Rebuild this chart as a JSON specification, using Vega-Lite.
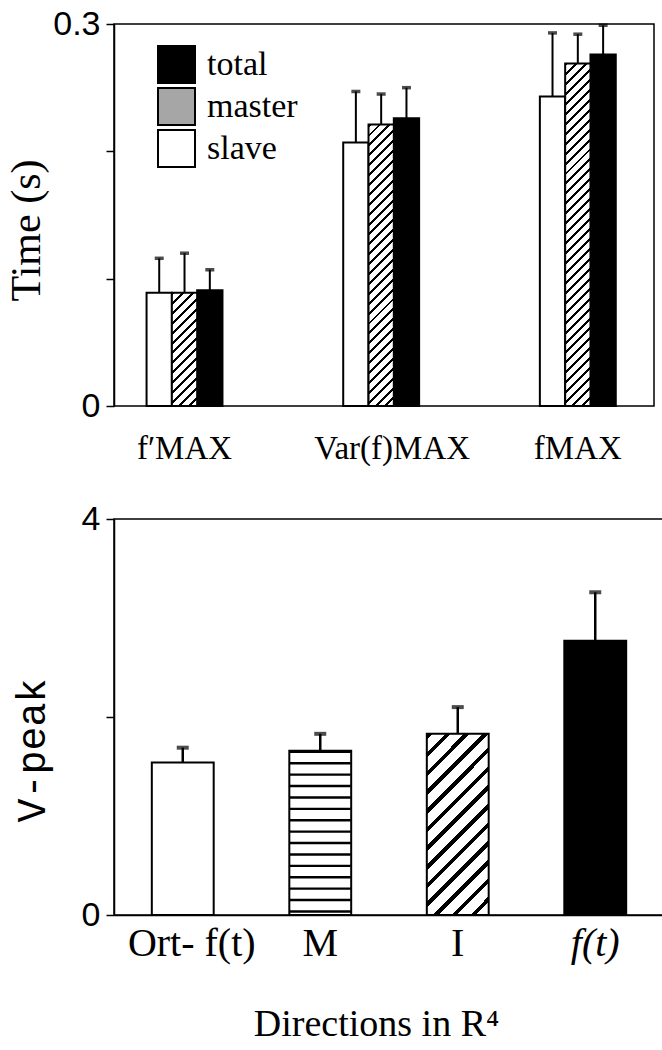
{
  "$schema": "https://vega.github.io/schema/vega-lite/v6.json",
  "padding": {"left": 4, "top": 6, "right": 0, "bottom": 0},
  "spacing": 35,
  "background": "#ffffff",
  "datasets": {
    "top": [
      {"metric": "f′MAX", "series": "slave", "time": 0.089, "upper": 0.116},
      {"metric": "f′MAX", "series": "master", "time": 0.089, "upper": 0.120},
      {"metric": "f′MAX", "series": "total", "time": 0.091, "upper": 0.107},
      {"metric": "Var(f)MAX", "series": "slave", "time": 0.207, "upper": 0.247},
      {"metric": "Var(f)MAX", "series": "master", "time": 0.221, "upper": 0.245},
      {"metric": "Var(f)MAX", "series": "total", "time": 0.226, "upper": 0.250},
      {"metric": "fMAX", "series": "slave", "time": 0.243, "upper": 0.293},
      {"metric": "fMAX", "series": "master", "time": 0.269, "upper": 0.292},
      {"metric": "fMAX", "series": "total", "time": 0.276, "upper": 0.299}
    ],
    "bottom": [
      {"dir": "Ort- f(t)", "vpeak": 1.54, "upper": 1.69},
      {"dir": "M", "vpeak": 1.66, "upper": 1.83},
      {"dir": "I", "vpeak": 1.83, "upper": 2.10},
      {"dir": "f(t)", "vpeak": 2.77, "upper": 3.26}
    ]
  },
  "config": {
    "font": "Liberation Serif",
    "view": {"stroke": "#000", "strokeWidth": 1.5},
    "axis": {
      "grid": false,
      "domainColor": "#000", "domainWidth": 1.5,
      "tickColor": "#000", "tickWidth": 1.5,
      "labelColor": "#000", "titleColor": "#000",
      "labelFont": "Liberation Sans",
      "labelFontSize": 34,
      "titleFontWeight": "normal"
    }
  },
  "vconcat": [
    {
      "width": 540,
      "height": 382,
      "data": {"name": "top"},
      "encoding": {
        "x": {"field": "metric", "type": "nominal", "sort": ["f′MAX", "Var(f)MAX", "fMAX"],
              "scale": {"paddingInner": 0.614, "paddingOuter": 0.18, "align": 0.46},
              "axis": {"title": null, "ticks": false, "domain": false, "labelAngle": 0, "labelFont": "Liberation Serif",
                       "labelFontSize": 33, "labelPadding": 26,
                       "labelOffset": {"condition": {"test": "datum.value === 'Var(f)MAX'", "value": 11}, "value": 0}}},
        "y": {"field": "time", "type": "quantitative", "scale": {"domain": [0, 0.3], "nice": false},
              "axis": {"values": [0, 0.1, 0.2, 0.3], "labelExpr": "datum.value == 0 ? '0' : datum.value > 0.29 ? '0.3' : ''",
                       "tickSize": 8, "labelPadding": 6, "title": "Time (s)", "titleFont": "Liberation Serif",
                       "titleFontSize": 42, "titleX": -66, "titleY": 206}}
      },
      "layer": [
        {
          "transform": [{"filter": "datum.series !== 'master'"}],
          "mark": {"type": "bar", "strokeWidth": 2},
          "encoding": {
            "xOffset": {"field": "series", "type": "nominal", "scale": {"domain": ["slave", "master", "total"], "paddingInner": 0, "paddingOuter": 0}},
            "fill": {"field": "series", "type": "nominal",
              "scale": {"domain": ["total", "master", "slave"], "range": ["#000", "#a6a6a6", "#fff"]},
              "legend": {"orient": "none", "legendX": 43, "legendY": 21, "title": null, "symbolType": "square",
                         "symbolSize": 1369, "symbolStrokeWidth": 2,
                         "labelFont": "Liberation Serif", "labelFontSize": 34, "labelColor": "#000",
                         "rowPadding": -4, "labelOffset": 11, "padding": 0, "labelLimit": 300}},
            "stroke": {"field": "series", "type": "nominal",
              "scale": {"domain": ["total", "master", "slave"], "range": ["#000", "#000", "#000"]},
              "legend": {"orient": "none", "legendX": 43, "legendY": 21, "title": null, "symbolType": "square",
                         "symbolSize": 1369, "symbolStrokeWidth": 2,
                         "labelFont": "Liberation Serif", "labelFontSize": 34, "labelColor": "#000",
                         "rowPadding": -4, "labelOffset": 11, "padding": 0, "labelLimit": 300}}
          }
        },
        {
          "transform": [{"filter": "datum.series === 'master' && datum.metric === 'f′MAX'"}],
          "mark": {"type": "bar", "stroke": "#000", "strokeWidth": 2,
            "fill": {"gradient": "linear", "x1": 0, "y1": 0, "x2": 0.2602, "y2": 1.1652, "stops": [
              {"offset": 0, "color": "#000"}, {"offset": 0.0214, "color": "#000"}, {"offset": 0.0214, "color": "#fff"}, {"offset": 0.0714, "color": "#fff"},
              {"offset": 0.0714, "color": "#000"}, {"offset": 0.0929, "color": "#000"}, {"offset": 0.0929, "color": "#fff"}, {"offset": 0.1429, "color": "#fff"},
              {"offset": 0.1429, "color": "#000"}, {"offset": 0.1643, "color": "#000"}, {"offset": 0.1643, "color": "#fff"}, {"offset": 0.2143, "color": "#fff"},
              {"offset": 0.2143, "color": "#000"}, {"offset": 0.2357, "color": "#000"}, {"offset": 0.2357, "color": "#fff"}, {"offset": 0.2857, "color": "#fff"},
              {"offset": 0.2857, "color": "#000"}, {"offset": 0.3071, "color": "#000"}, {"offset": 0.3071, "color": "#fff"}, {"offset": 0.3571, "color": "#fff"},
              {"offset": 0.3571, "color": "#000"}, {"offset": 0.3786, "color": "#000"}, {"offset": 0.3786, "color": "#fff"}, {"offset": 0.4286, "color": "#fff"},
              {"offset": 0.4286, "color": "#000"}, {"offset": 0.45, "color": "#000"}, {"offset": 0.45, "color": "#fff"}, {"offset": 0.5, "color": "#fff"},
              {"offset": 0.5, "color": "#000"}, {"offset": 0.5214, "color": "#000"}, {"offset": 0.5214, "color": "#fff"}, {"offset": 0.5714, "color": "#fff"},
              {"offset": 0.5714, "color": "#000"}, {"offset": 0.5929, "color": "#000"}, {"offset": 0.5929, "color": "#fff"}, {"offset": 0.6429, "color": "#fff"},
              {"offset": 0.6429, "color": "#000"}, {"offset": 0.6643, "color": "#000"}, {"offset": 0.6643, "color": "#fff"}, {"offset": 0.7143, "color": "#fff"},
              {"offset": 0.7143, "color": "#000"}, {"offset": 0.7357, "color": "#000"}, {"offset": 0.7357, "color": "#fff"}, {"offset": 0.7857, "color": "#fff"},
              {"offset": 0.7857, "color": "#000"}, {"offset": 0.8071, "color": "#000"}, {"offset": 0.8071, "color": "#fff"}, {"offset": 0.8571, "color": "#fff"},
              {"offset": 0.8571, "color": "#000"}, {"offset": 0.8786, "color": "#000"}, {"offset": 0.8786, "color": "#fff"}, {"offset": 0.9286, "color": "#fff"},
              {"offset": 0.9286, "color": "#000"}, {"offset": 0.95, "color": "#000"}, {"offset": 0.95, "color": "#fff"}, {"offset": 1, "color": "#fff"}
            ]}},
          "encoding": {
            "xOffset": {"field": "series", "type": "nominal", "scale": {"domain": ["slave", "master", "total"], "paddingInner": 0, "paddingOuter": 0}}
          }
        },
        {
          "transform": [{"filter": "datum.series === 'master' && datum.metric === 'Var(f)MAX'"}],
          "mark": {"type": "bar", "stroke": "#000", "strokeWidth": 2,
            "fill": {"gradient": "linear", "x1": 0, "y1": 0, "x2": 0.0972, "y2": 1.0812, "stops": [
              {"offset": 0, "color": "#000"}, {"offset": 0.0097, "color": "#000"}, {"offset": 0.0097, "color": "#fff"}, {"offset": 0.0323, "color": "#fff"},
              {"offset": 0.0323, "color": "#000"}, {"offset": 0.0419, "color": "#000"}, {"offset": 0.0419, "color": "#fff"}, {"offset": 0.0645, "color": "#fff"},
              {"offset": 0.0645, "color": "#000"}, {"offset": 0.0742, "color": "#000"}, {"offset": 0.0742, "color": "#fff"}, {"offset": 0.0968, "color": "#fff"},
              {"offset": 0.0968, "color": "#000"}, {"offset": 0.1065, "color": "#000"}, {"offset": 0.1065, "color": "#fff"}, {"offset": 0.129, "color": "#fff"},
              {"offset": 0.129, "color": "#000"}, {"offset": 0.1387, "color": "#000"}, {"offset": 0.1387, "color": "#fff"}, {"offset": 0.1613, "color": "#fff"},
              {"offset": 0.1613, "color": "#000"}, {"offset": 0.171, "color": "#000"}, {"offset": 0.171, "color": "#fff"}, {"offset": 0.1935, "color": "#fff"},
              {"offset": 0.1935, "color": "#000"}, {"offset": 0.2032, "color": "#000"}, {"offset": 0.2032, "color": "#fff"}, {"offset": 0.2258, "color": "#fff"},
              {"offset": 0.2258, "color": "#000"}, {"offset": 0.2355, "color": "#000"}, {"offset": 0.2355, "color": "#fff"}, {"offset": 0.2581, "color": "#fff"},
              {"offset": 0.2581, "color": "#000"}, {"offset": 0.2677, "color": "#000"}, {"offset": 0.2677, "color": "#fff"}, {"offset": 0.2903, "color": "#fff"},
              {"offset": 0.2903, "color": "#000"}, {"offset": 0.3, "color": "#000"}, {"offset": 0.3, "color": "#fff"}, {"offset": 0.3226, "color": "#fff"},
              {"offset": 0.3226, "color": "#000"}, {"offset": 0.3323, "color": "#000"}, {"offset": 0.3323, "color": "#fff"}, {"offset": 0.3548, "color": "#fff"},
              {"offset": 0.3548, "color": "#000"}, {"offset": 0.3645, "color": "#000"}, {"offset": 0.3645, "color": "#fff"}, {"offset": 0.3871, "color": "#fff"},
              {"offset": 0.3871, "color": "#000"}, {"offset": 0.3968, "color": "#000"}, {"offset": 0.3968, "color": "#fff"}, {"offset": 0.4194, "color": "#fff"},
              {"offset": 0.4194, "color": "#000"}, {"offset": 0.429, "color": "#000"}, {"offset": 0.429, "color": "#fff"}, {"offset": 0.4516, "color": "#fff"},
              {"offset": 0.4516, "color": "#000"}, {"offset": 0.4613, "color": "#000"}, {"offset": 0.4613, "color": "#fff"}, {"offset": 0.4839, "color": "#fff"},
              {"offset": 0.4839, "color": "#000"}, {"offset": 0.4935, "color": "#000"}, {"offset": 0.4935, "color": "#fff"}, {"offset": 0.5161, "color": "#fff"},
              {"offset": 0.5161, "color": "#000"}, {"offset": 0.5258, "color": "#000"}, {"offset": 0.5258, "color": "#fff"}, {"offset": 0.5484, "color": "#fff"},
              {"offset": 0.5484, "color": "#000"}, {"offset": 0.5581, "color": "#000"}, {"offset": 0.5581, "color": "#fff"}, {"offset": 0.5806, "color": "#fff"},
              {"offset": 0.5806, "color": "#000"}, {"offset": 0.5903, "color": "#000"}, {"offset": 0.5903, "color": "#fff"}, {"offset": 0.6129, "color": "#fff"},
              {"offset": 0.6129, "color": "#000"}, {"offset": 0.6226, "color": "#000"}, {"offset": 0.6226, "color": "#fff"}, {"offset": 0.6452, "color": "#fff"},
              {"offset": 0.6452, "color": "#000"}, {"offset": 0.6548, "color": "#000"}, {"offset": 0.6548, "color": "#fff"}, {"offset": 0.6774, "color": "#fff"},
              {"offset": 0.6774, "color": "#000"}, {"offset": 0.6871, "color": "#000"}, {"offset": 0.6871, "color": "#fff"}, {"offset": 0.7097, "color": "#fff"},
              {"offset": 0.7097, "color": "#000"}, {"offset": 0.7194, "color": "#000"}, {"offset": 0.7194, "color": "#fff"}, {"offset": 0.7419, "color": "#fff"},
              {"offset": 0.7419, "color": "#000"}, {"offset": 0.7516, "color": "#000"}, {"offset": 0.7516, "color": "#fff"}, {"offset": 0.7742, "color": "#fff"},
              {"offset": 0.7742, "color": "#000"}, {"offset": 0.7839, "color": "#000"}, {"offset": 0.7839, "color": "#fff"}, {"offset": 0.8065, "color": "#fff"},
              {"offset": 0.8065, "color": "#000"}, {"offset": 0.8161, "color": "#000"}, {"offset": 0.8161, "color": "#fff"}, {"offset": 0.8387, "color": "#fff"},
              {"offset": 0.8387, "color": "#000"}, {"offset": 0.8484, "color": "#000"}, {"offset": 0.8484, "color": "#fff"}, {"offset": 0.871, "color": "#fff"},
              {"offset": 0.871, "color": "#000"}, {"offset": 0.8806, "color": "#000"}, {"offset": 0.8806, "color": "#fff"}, {"offset": 0.9032, "color": "#fff"},
              {"offset": 0.9032, "color": "#000"}, {"offset": 0.9129, "color": "#000"}, {"offset": 0.9129, "color": "#fff"}, {"offset": 0.9355, "color": "#fff"},
              {"offset": 0.9355, "color": "#000"}, {"offset": 0.9452, "color": "#000"}, {"offset": 0.9452, "color": "#fff"}, {"offset": 0.9677, "color": "#fff"},
              {"offset": 0.9677, "color": "#000"}, {"offset": 0.9774, "color": "#000"}, {"offset": 0.9774, "color": "#fff"}, {"offset": 1, "color": "#fff"}
            ]}},
          "encoding": {
            "xOffset": {"field": "series", "type": "nominal", "scale": {"domain": ["slave", "master", "total"], "paddingInner": 0, "paddingOuter": 0}}
          }
        },
        {
          "transform": [{"filter": "datum.series === 'master' && datum.metric === 'fMAX'"}],
          "mark": {"type": "bar", "stroke": "#000", "strokeWidth": 2,
            "fill": {"gradient": "linear", "x1": 0, "y1": 0, "x2": 0.0789, "y2": 1.0681, "stops": [
              {"offset": 0, "color": "#000"}, {"offset": 0.0081, "color": "#000"}, {"offset": 0.0081, "color": "#fff"}, {"offset": 0.027, "color": "#fff"},
              {"offset": 0.027, "color": "#000"}, {"offset": 0.0351, "color": "#000"}, {"offset": 0.0351, "color": "#fff"}, {"offset": 0.0541, "color": "#fff"},
              {"offset": 0.0541, "color": "#000"}, {"offset": 0.0622, "color": "#000"}, {"offset": 0.0622, "color": "#fff"}, {"offset": 0.0811, "color": "#fff"},
              {"offset": 0.0811, "color": "#000"}, {"offset": 0.0892, "color": "#000"}, {"offset": 0.0892, "color": "#fff"}, {"offset": 0.1081, "color": "#fff"},
              {"offset": 0.1081, "color": "#000"}, {"offset": 0.1162, "color": "#000"}, {"offset": 0.1162, "color": "#fff"}, {"offset": 0.1351, "color": "#fff"},
              {"offset": 0.1351, "color": "#000"}, {"offset": 0.1432, "color": "#000"}, {"offset": 0.1432, "color": "#fff"}, {"offset": 0.1622, "color": "#fff"},
              {"offset": 0.1622, "color": "#000"}, {"offset": 0.1703, "color": "#000"}, {"offset": 0.1703, "color": "#fff"}, {"offset": 0.1892, "color": "#fff"},
              {"offset": 0.1892, "color": "#000"}, {"offset": 0.1973, "color": "#000"}, {"offset": 0.1973, "color": "#fff"}, {"offset": 0.2162, "color": "#fff"},
              {"offset": 0.2162, "color": "#000"}, {"offset": 0.2243, "color": "#000"}, {"offset": 0.2243, "color": "#fff"}, {"offset": 0.2432, "color": "#fff"},
              {"offset": 0.2432, "color": "#000"}, {"offset": 0.2514, "color": "#000"}, {"offset": 0.2514, "color": "#fff"}, {"offset": 0.2703, "color": "#fff"},
              {"offset": 0.2703, "color": "#000"}, {"offset": 0.2784, "color": "#000"}, {"offset": 0.2784, "color": "#fff"}, {"offset": 0.2973, "color": "#fff"},
              {"offset": 0.2973, "color": "#000"}, {"offset": 0.3054, "color": "#000"}, {"offset": 0.3054, "color": "#fff"}, {"offset": 0.3243, "color": "#fff"},
              {"offset": 0.3243, "color": "#000"}, {"offset": 0.3324, "color": "#000"}, {"offset": 0.3324, "color": "#fff"}, {"offset": 0.3514, "color": "#fff"},
              {"offset": 0.3514, "color": "#000"}, {"offset": 0.3595, "color": "#000"}, {"offset": 0.3595, "color": "#fff"}, {"offset": 0.3784, "color": "#fff"},
              {"offset": 0.3784, "color": "#000"}, {"offset": 0.3865, "color": "#000"}, {"offset": 0.3865, "color": "#fff"}, {"offset": 0.4054, "color": "#fff"},
              {"offset": 0.4054, "color": "#000"}, {"offset": 0.4135, "color": "#000"}, {"offset": 0.4135, "color": "#fff"}, {"offset": 0.4324, "color": "#fff"},
              {"offset": 0.4324, "color": "#000"}, {"offset": 0.4405, "color": "#000"}, {"offset": 0.4405, "color": "#fff"}, {"offset": 0.4595, "color": "#fff"},
              {"offset": 0.4595, "color": "#000"}, {"offset": 0.4676, "color": "#000"}, {"offset": 0.4676, "color": "#fff"}, {"offset": 0.4865, "color": "#fff"},
              {"offset": 0.4865, "color": "#000"}, {"offset": 0.4946, "color": "#000"}, {"offset": 0.4946, "color": "#fff"}, {"offset": 0.5135, "color": "#fff"},
              {"offset": 0.5135, "color": "#000"}, {"offset": 0.5216, "color": "#000"}, {"offset": 0.5216, "color": "#fff"}, {"offset": 0.5405, "color": "#fff"},
              {"offset": 0.5405, "color": "#000"}, {"offset": 0.5486, "color": "#000"}, {"offset": 0.5486, "color": "#fff"}, {"offset": 0.5676, "color": "#fff"},
              {"offset": 0.5676, "color": "#000"}, {"offset": 0.5757, "color": "#000"}, {"offset": 0.5757, "color": "#fff"}, {"offset": 0.5946, "color": "#fff"},
              {"offset": 0.5946, "color": "#000"}, {"offset": 0.6027, "color": "#000"}, {"offset": 0.6027, "color": "#fff"}, {"offset": 0.6216, "color": "#fff"},
              {"offset": 0.6216, "color": "#000"}, {"offset": 0.6297, "color": "#000"}, {"offset": 0.6297, "color": "#fff"}, {"offset": 0.6486, "color": "#fff"},
              {"offset": 0.6486, "color": "#000"}, {"offset": 0.6568, "color": "#000"}, {"offset": 0.6568, "color": "#fff"}, {"offset": 0.6757, "color": "#fff"},
              {"offset": 0.6757, "color": "#000"}, {"offset": 0.6838, "color": "#000"}, {"offset": 0.6838, "color": "#fff"}, {"offset": 0.7027, "color": "#fff"},
              {"offset": 0.7027, "color": "#000"}, {"offset": 0.7108, "color": "#000"}, {"offset": 0.7108, "color": "#fff"}, {"offset": 0.7297, "color": "#fff"},
              {"offset": 0.7297, "color": "#000"}, {"offset": 0.7378, "color": "#000"}, {"offset": 0.7378, "color": "#fff"}, {"offset": 0.7568, "color": "#fff"},
              {"offset": 0.7568, "color": "#000"}, {"offset": 0.7649, "color": "#000"}, {"offset": 0.7649, "color": "#fff"}, {"offset": 0.7838, "color": "#fff"},
              {"offset": 0.7838, "color": "#000"}, {"offset": 0.7919, "color": "#000"}, {"offset": 0.7919, "color": "#fff"}, {"offset": 0.8108, "color": "#fff"},
              {"offset": 0.8108, "color": "#000"}, {"offset": 0.8189, "color": "#000"}, {"offset": 0.8189, "color": "#fff"}, {"offset": 0.8378, "color": "#fff"},
              {"offset": 0.8378, "color": "#000"}, {"offset": 0.8459, "color": "#000"}, {"offset": 0.8459, "color": "#fff"}, {"offset": 0.8649, "color": "#fff"},
              {"offset": 0.8649, "color": "#000"}, {"offset": 0.873, "color": "#000"}, {"offset": 0.873, "color": "#fff"}, {"offset": 0.8919, "color": "#fff"},
              {"offset": 0.8919, "color": "#000"}, {"offset": 0.9, "color": "#000"}, {"offset": 0.9, "color": "#fff"}, {"offset": 0.9189, "color": "#fff"},
              {"offset": 0.9189, "color": "#000"}, {"offset": 0.927, "color": "#000"}, {"offset": 0.927, "color": "#fff"}, {"offset": 0.9459, "color": "#fff"},
              {"offset": 0.9459, "color": "#000"}, {"offset": 0.9541, "color": "#000"}, {"offset": 0.9541, "color": "#fff"}, {"offset": 0.973, "color": "#fff"},
              {"offset": 0.973, "color": "#000"}, {"offset": 0.9811, "color": "#000"}, {"offset": 0.9811, "color": "#fff"}, {"offset": 1, "color": "#fff"}
            ]}},
          "encoding": {
            "xOffset": {"field": "series", "type": "nominal", "scale": {"domain": ["slave", "master", "total"], "paddingInner": 0, "paddingOuter": 0}}
          }
        },
        {
          "mark": {"type": "rule", "color": "#000", "strokeWidth": 2},
          "encoding": {
            "xOffset": {"field": "series", "type": "nominal", "scale": {"domain": ["slave", "master", "total"], "paddingInner": 0, "paddingOuter": 0}},
            "y2": {"field": "upper"}
          }
        },
        {
          "mark": {"type": "tick", "color": "#000", "size": 9, "thickness": 3.5},
          "encoding": {
            "xOffset": {"field": "series", "type": "nominal", "scale": {"domain": ["slave", "master", "total"], "paddingInner": 0, "paddingOuter": 0}},
            "y": {"field": "upper", "type": "quantitative"}
          }
        }
      ]
    },
    {
      "width": 550,
      "height": 396,
      "data": {"name": "bottom"},
      "encoding": {
        "x": {"field": "dir", "type": "nominal", "sort": ["Ort- f(t)", "M", "I", "f(t)"],
              "scale": {"paddingInner": 0.55, "paddingOuter": 0.275},
              "axis": {"title": "Directions in R⁴", "titleFont": "Liberation Serif", "titleFontSize": 38,
                       "titleBaseline": "alphabetic", "titleY": 120, "titleX": 262,
                       "labelFont": "Liberation Serif", "labelFontSize": 40, "labelAngle": 0, "ticks": false, "labelPadding": 8,
                       "labelOffset": {"condition": {"test": "datum.value === 'Ort- f(t)'", "value": 9}, "value": 0},
                       "labelFontStyle": {"condition": {"test": "datum.value === 'f(t)'", "value": "italic"}, "value": "normal"}}},
        "y": {"field": "vpeak", "type": "quantitative", "scale": {"domain": [0, 4], "nice": false},
              "axis": {"values": [0, 2, 4], "labelExpr": "datum.value == 0 ? '0' : datum.value == 4 ? '4' : ''",
                       "tickSize": 8, "labelPadding": 6, "title": "V-peak", "titleFont": "Liberation Mono",
                       "titleFontSize": 40, "titleX": -62, "titleY": 231}}
      },
      "layer": [
        {
          "transform": [{"filter": "datum.dir !== 'I'"}],
          "mark": {"type": "bar", "stroke": "#000", "strokeWidth": 2},
          "encoding": {"fill": {"condition": {"test": "datum.dir === 'f(t)'", "value": "#000"}, "value": "#fff"}}
        },
        {
          "transform": [{"filter": "datum.dir === 'I'"}],
          "mark": {"type": "bar", "stroke": "#000", "strokeWidth": 2,
            "fill": {"gradient": "linear", "x1": 0, "y1": 0, "x2": 0.411, "y2": 1.2015, "stops": [
              {"offset": 0, "color": "#000"}, {"offset": 0.0231, "color": "#000"}, {"offset": 0.0231, "color": "#fff"}, {"offset": 0.0769, "color": "#fff"},
              {"offset": 0.0769, "color": "#000"}, {"offset": 0.1, "color": "#000"}, {"offset": 0.1, "color": "#fff"}, {"offset": 0.1538, "color": "#fff"},
              {"offset": 0.1538, "color": "#000"}, {"offset": 0.1769, "color": "#000"}, {"offset": 0.1769, "color": "#fff"}, {"offset": 0.2308, "color": "#fff"},
              {"offset": 0.2308, "color": "#000"}, {"offset": 0.2538, "color": "#000"}, {"offset": 0.2538, "color": "#fff"}, {"offset": 0.3077, "color": "#fff"},
              {"offset": 0.3077, "color": "#000"}, {"offset": 0.3308, "color": "#000"}, {"offset": 0.3308, "color": "#fff"}, {"offset": 0.3846, "color": "#fff"},
              {"offset": 0.3846, "color": "#000"}, {"offset": 0.4077, "color": "#000"}, {"offset": 0.4077, "color": "#fff"}, {"offset": 0.4615, "color": "#fff"},
              {"offset": 0.4615, "color": "#000"}, {"offset": 0.4846, "color": "#000"}, {"offset": 0.4846, "color": "#fff"}, {"offset": 0.5385, "color": "#fff"},
              {"offset": 0.5385, "color": "#000"}, {"offset": 0.5615, "color": "#000"}, {"offset": 0.5615, "color": "#fff"}, {"offset": 0.6154, "color": "#fff"},
              {"offset": 0.6154, "color": "#000"}, {"offset": 0.6385, "color": "#000"}, {"offset": 0.6385, "color": "#fff"}, {"offset": 0.6923, "color": "#fff"},
              {"offset": 0.6923, "color": "#000"}, {"offset": 0.7154, "color": "#000"}, {"offset": 0.7154, "color": "#fff"}, {"offset": 0.7692, "color": "#fff"},
              {"offset": 0.7692, "color": "#000"}, {"offset": 0.7923, "color": "#000"}, {"offset": 0.7923, "color": "#fff"}, {"offset": 0.8462, "color": "#fff"},
              {"offset": 0.8462, "color": "#000"}, {"offset": 0.8692, "color": "#000"}, {"offset": 0.8692, "color": "#fff"}, {"offset": 0.9231, "color": "#fff"},
              {"offset": 0.9231, "color": "#000"}, {"offset": 0.9462, "color": "#000"}, {"offset": 0.9462, "color": "#fff"}, {"offset": 1, "color": "#fff"}
            ]}}
        },
        {
          "transform": [{"filter": "datum.dir === 'M'"}],
          "mark": {"type": "rule", "color": "#000", "strokeWidth": 61, "strokeDash": [2.4, 9]},
          "encoding": {"y2": {"datum": 0}}
        },
        {
          "mark": {"type": "rule", "color": "#000", "strokeWidth": 2.5},
          "encoding": {"y2": {"field": "upper"}}
        },
        {
          "mark": {"type": "tick", "color": "#000", "size": 12, "thickness": 4},
          "encoding": {"y": {"field": "upper", "type": "quantitative"}}
        }
      ]
    }
  ]
}
